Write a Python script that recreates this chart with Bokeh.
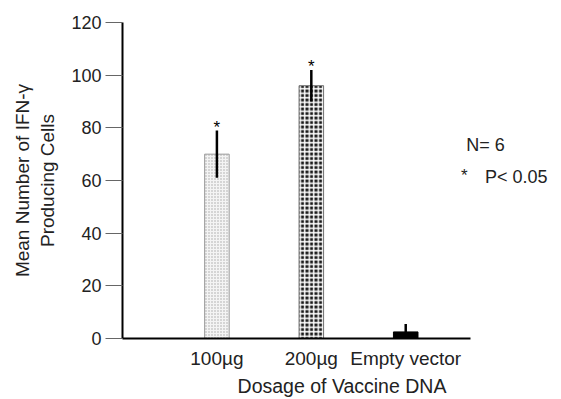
from bokeh.plotting import figure
from bokeh.models import FixedTicker, Range1d
from bokeh.core.properties import value
from bokeh.embed import file_html
from bokeh.resources import INLINE

# ---- data ----
categories = ["100\u00b5g", "200\u00b5g", "Empty vector"]
means = [70, 96, 2.5]
errors = [9, 6, 3]
signif = ["*", "*", ""]
y_ticks = [0, 20, 40, 60, 80, 100, 120]
note_n = "N= 6"
note_p = "P< 0.05"

FONT = "Liberation Sans"
xs = [i + 1 for i in range(len(categories))]

p = figure(width=561, height=399, output_backend="svg", toolbar_location=None,
           x_range=Range1d(0, 4.65), y_range=Range1d(0, 120),
           min_border_left=122, min_border_right=0, min_border_top=22,
           min_border_bottom=61)
p.outline_line_color = None
p.xgrid.visible = False
p.ygrid.visible = False
p.background_fill_color = "white"

# bars
bw = 0.26
p.vbar(x=[xs[0]], top=[means[0]], width=bw, fill_color="#f4f4f4",
       line_color="#9a9a9a", line_width=1,
       hatch_pattern="dot", hatch_color="#a8a8a8", hatch_scale=3, hatch_weight=1)
p.vbar(x=[xs[1]], top=[means[1]], width=bw, fill_color="#1a1a1a",
       line_color="#777777", line_width=1,
       hatch_pattern="cross", hatch_color="white", hatch_scale=4.5, hatch_weight=1.5)
p.vbar(x=[xs[2]], top=[means[2]], width=bw, fill_color="black",
       line_color="black", line_width=1)

# error bars
lo = [m - e for m, e in zip(means, errors)]
hi = [m + e for m, e in zip(means, errors)]
p.segment(x0=xs, y0=lo, x1=xs, y1=hi, line_color="black", line_width=2.5)

# significance asterisks
p.text(x=xs, y=hi, text=signif, text_font=value(FONT), text_font_size="17px",
       text_align="center", text_baseline="alphabetic", text_color="black",
       y_offset=-3)

# notes
p.text(x=[3.64], y=[73.5], text=[note_n], text_font=value(FONT),
       text_font_size="18px", text_baseline="middle", text_color="#222222")
p.text(x=[3.62], y=[62], text=["*"], text_font=value(FONT),
       text_font_size="17px", text_align="center", text_baseline="alphabetic",
       text_color="#222222")
p.text(x=[3.84], y=[61.5], text=[note_p], text_font=value(FONT),
       text_font_size="18px", text_baseline="middle", text_color="#222222")

# y axis
ya = p.yaxis[0]
ya.ticker = FixedTicker(ticks=y_ticks)
ya.axis_line_color = "black"
ya.axis_line_width = 2
ya.major_tick_line_color = "#666666"
ya.major_tick_line_width = 1
ya.major_tick_out = 17
ya.major_tick_in = 0
ya.minor_tick_line_color = None
ya.major_label_standoff = 4
ya.major_label_text_font = FONT
ya.major_label_text_font_size = "18px"
ya.major_label_text_color = "#222222"
ya.axis_label = "Mean Number of IFN-\u03b3\nProducing Cells"
ya.axis_label_text_font = FONT
ya.axis_label_text_font_size = "19px"
ya.axis_label_text_font_style = "normal"
ya.axis_label_text_color = "#222222"
ya.axis_label_standoff = 10

# x axis
xa = p.xaxis[0]
xa.ticker = FixedTicker(ticks=xs)
xa.major_label_overrides = {x: c for x, c in zip(xs, categories)}
xa.bounds = (0, 3.69)
xa.axis_line_color = "black"
xa.axis_line_width = 2
xa.major_tick_line_color = None
xa.minor_tick_line_color = None
xa.major_tick_out = 0
xa.major_tick_in = 0
xa.major_label_standoff = 9
xa.major_label_text_font = FONT
xa.major_label_text_font_size = "19px"
xa.major_label_text_color = "#222222"
xa.axis_label = "Dosage of Vaccine DNA"
xa.axis_label_text_font = FONT
xa.axis_label_text_font_size = "19.5px"
xa.axis_label_text_font_style = "normal"
xa.axis_label_text_color = "#222222"
xa.axis_label_standoff = 3

open("out.html", "w").write(file_html(p, INLINE))
